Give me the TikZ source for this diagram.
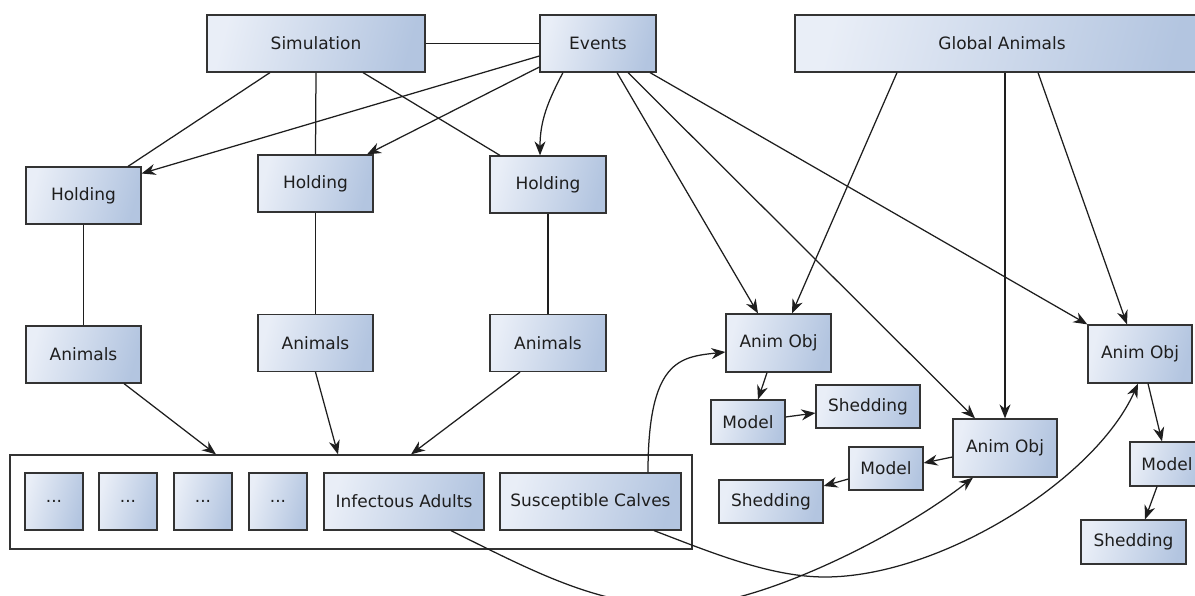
\documentclass[tikz,border=0pt]{standalone}
\usepackage{fontspec}
\setmainfont{DejaVu Sans}
\usetikzlibrary{arrows.meta}
\definecolor{boxlight}{HTML}{E9EEF7}
\definecolor{boxdark}{HTML}{B3C5E0}
\definecolor{edge}{HTML}{333333}
\definecolor{ink}{HTML}{1E1E1E}
\begin{document}
\begin{tikzpicture}[x=1pt,y=-1pt,
  box/.style={draw=edge, line width=1.2pt, left color=boxlight, right color=boxdark,
    shading angle=75, text=ink, font=\fontsize{17}{20}\selectfont, inner sep=0pt, minimum height=57pt},
  link/.style={line width=1.25pt, draw=ink},
  arr/.style={link, -{Stealth[length=14pt,width=11pt,inset=4.5pt]}}]
\useasboundingbox (0,0) rectangle (1195,596);
\clip (0,0) rectangle (1195,596);

% top row
\node[box,minimum width=218pt] (sim)  at (316,43.5)  {Simulation};
\node[box,minimum width=116pt] (ev)   at (598,43.5)  {Events};
\node[box,minimum width=414pt] (glob) at (1002,43.5) {Global Animals};

% holdings and their animal lists
\node[box,minimum width=115pt] (h1) at (83.5,195.5) {Holding};
\node[box,minimum width=115pt] (h2) at (315.5,183.5) {Holding};
\node[box,minimum width=116pt] (h3) at (548,184.5)  {Holding};
\node[box,minimum width=115pt] (a1) at (83.5,354.5) {Animals};
\node[box,minimum width=115pt] (a2) at (315.5,343)  {Animals};
\node[box,minimum width=116pt] (a3) at (548,343)    {Animals};

% shared pool of groups
\node[draw=edge,line width=1.2pt,fill=white,minimum width=682pt,minimum height=94pt] (pool) at (351,502) {};
\node[box,minimum width=58pt]  (d1) at (54,501.5)  {...};
\node[box,minimum width=58pt]  (d2) at (128,501.5) {...};
\node[box,minimum width=58pt]  (d3) at (203,501.5) {...};
\node[box,minimum width=58pt]  (d4) at (278,501.5) {...};
\node[box,minimum width=160pt] (ia) at (404,501.5) {Infectous Adults};
\node[box,minimum width=181pt] (sc) at (590.5,501.5) {Susceptible Calves};

% animal objects
\node[box,minimum width=105pt,minimum height=58pt] (ao1) at (778.5,343) {Anim Obj};
\node[box,minimum width=74pt,minimum height=44pt]  (m1)  at (748,422)   {Model};
\node[box,minimum width=104pt,minimum height=43pt] (s1)  at (868,406.5) {Shedding};
\node[box,minimum width=104pt,minimum height=58pt] (ao2) at (1005,448)  {Anim Obj};
\node[box,minimum width=74pt,minimum height=43pt]  (m2)  at (886,468.5) {Model};
\node[box,minimum width=104pt,minimum height=43pt] (s2)  at (771,501.5) {Shedding};
\node[box,minimum width=104pt,minimum height=58pt] (ao3) at (1140,354)  {Anim Obj};
\node[box,minimum width=74pt,minimum height=44pt]  (m3)  at (1167,464)  {Model};
\node[box,minimum width=105pt,minimum height=44pt] (s3)  at (1133.5,542) {Shedding};

% simulation links
\draw[link] (sim.east) -- (ev.west);
\draw[link] ([xshift=-46pt]sim.south) -- ([xshift=44.5pt]h1.north);
\draw[link] (sim.south) -- (h2.north);
\draw[link] ([xshift=47pt]sim.south) -- ([xshift=-48pt]h3.north);

% events
\draw[arr] ([yshift=-12.5pt]ev.west) -- ([yshift=22pt]h1.east);
\draw[arr] ([yshift=-23.5pt]ev.west) -- ([xshift=51.5pt]h2.north);
\draw[arr] ([xshift=-35pt]ev.south) to[out=-118,in=90] ([xshift=-8pt]h3.north);
\draw[arr] ([xshift=19pt]ev.south) -- ([xshift=-20.5pt]ao1.north);
\draw[arr] ([xshift=30pt]ev.south) -- ([xshift=-30pt]ao2.north);
\draw[arr] ([xshift=52pt]ev.south) -- (ao3.north west);

% global animals
\draw[arr] ([xshift=-105pt]glob.south) -- ([xshift=13.5pt]ao1.north);
\draw[arr] ([xshift=3pt]glob.south) -- (ao2.north);
\draw[arr] ([xshift=36pt]glob.south) -- ([xshift=-13pt]ao3.north);

% holdings to animals to pool
\draw[link] (h1.south) -- (a1.north);
\draw[link] (h2.south) -- (a2.north);
\draw[link] (h3.south) -- (a3.north);
\draw[arr] ([xshift=40.5pt]a1.south) -- ([xshift=-135pt]pool.north);
\draw[arr] (a2.south) -- ([xshift=-13pt]pool.north);
\draw[arr] ([xshift=-28pt]a3.south) -- ([xshift=60pt]pool.north);

% groups to animal objects
\draw[arr] ([xshift=57.5pt]sc.north) .. controls +(0,-113) and +(-45,5) .. ([yshift=-9pt]ao1.west);
\coordinate (dip1) at (680,606);
\draw[arr] ([xshift=47pt]ia.south) .. controls (540,575) and (600,606) .. (dip1)
  .. controls (760,606) and (900,535) .. ([xshift=-32pt]ao2.south);
\coordinate (dip2) at (825,577);
\draw[arr] ([xshift=63.5pt]sc.south) .. controls (710,552) and (770,577) .. (dip2)
  .. controls (940,577) and (1095,480) .. ([xshift=-2pt]ao3.south);

% object internals
\draw[arr] ([xshift=-11.5pt]ao1.south) -- ([xshift=10pt]m1.north);
\draw[arr] ([yshift=5pt]m1.east) -- ([yshift=-6.5pt]s1.west);
\draw[arr] ([yshift=-9pt]ao2.west) -- ([yshift=5.5pt]m2.east);
\draw[arr] ([yshift=-10.5pt]m2.west) -- ([yshift=15.5pt]s2.east);
\draw[arr] ([xshift=8pt]ao3.south) -- ([xshift=-5pt]m3.north);
\draw[arr] ([xshift=-10pt]m3.south) -- ([xshift=11.5pt]s3.north);
\end{tikzpicture}
\end{document}
